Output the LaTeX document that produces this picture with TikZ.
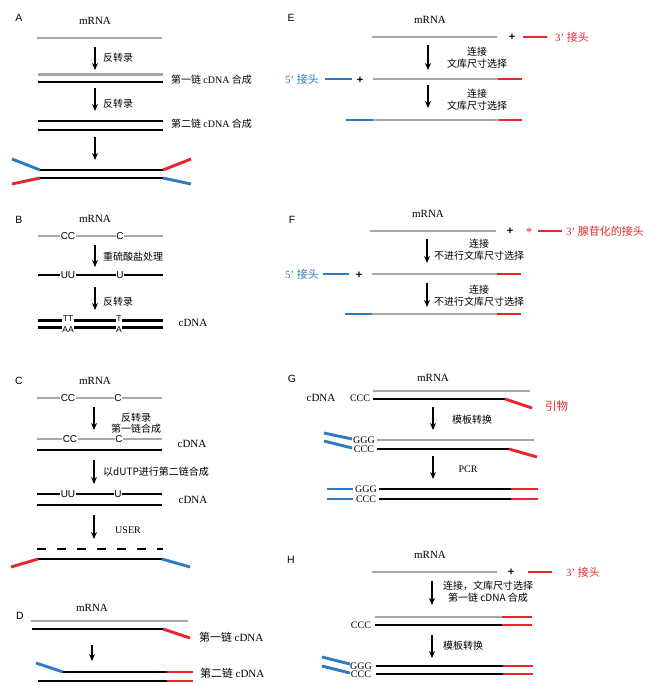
\documentclass[tikz,border=0pt]{standalone}
\usepackage{fontspec}
\setmainfont{Liberation Serif}
\setsansfont{Liberation Sans}
\newfontfamily\cjk{Noto Sans CJK SC}
\usetikzlibrary{arrows.meta}
\definecolor{rg}{HTML}{A8A8A8}
\definecolor{rr}{HTML}{E8262B}
\definecolor{rb}{HTML}{2E7BC4}
\tikzset{
  strand/.style={line width=2.9pt},
  rna/.style={strand, draw=rg},
  dna/.style={strand, draw=black},
  adr/.style={strand, draw=rr},
  adb/.style={strand, draw=rb},
  flow/.style={-{Stealth[length=7pt,width=6pt]}, line width=1.2pt},
  panel/.style={font=\sffamily\fontsize{10.5}{12}\selectfont, inner sep=0pt},
  mrna/.style={font=\fontsize{11}{13}\selectfont, inner sep=0pt},
  zh/.style={font=\cjk\fontsize{10}{12}\selectfont, align=center, inner sep=0pt},
  zhbig/.style={font=\cjk\fontsize{11}{13}\selectfont, inner sep=0pt},
  base/.style={font=\sffamily\fontsize{10}{11}\selectfont, fill=white, inner sep=0.7pt},
  tbase/.style={font=\sffamily\fontsize{8.5}{9}\selectfont, fill=white, inner sep=0.5pt},
  nt/.style={font=\fontsize{10}{12}\selectfont, inner sep=0pt},
  plus/.style={font=\sffamily\bfseries\fontsize{11}{12}\selectfont, inner sep=0pt},
}
\begin{document}
\begin{tikzpicture}[x=1pt,y=-1pt]
\useasboundingbox (0,0) rectangle (654,685);

% ---------------- Panel A ----------------
\node[panel] (lA) at (19,18) {A};
\node[mrna] (mA) at (95,21) {mRNA};
\draw[rna] (37,38) -- (162,38);
\coordinate (A1s) at (95,47); \coordinate (A1e) at (95,70);
\draw[flow] (A1s) -- (A1e);
\node[zh,anchor=west] (tA1) at (103,58) {反转录};
\draw[rna] (38,74.5) -- (163,74.5);
\draw[dna] (38,82) -- (163,82);
\node[zh,anchor=west] (tA2) at (171,80) {第一链 {\rmfamily cDNA} 合成};
\coordinate (A2s) at (95,88); \coordinate (A2e) at (95,111);
\draw[flow] (A2s) -- (A2e);
\node[zh,anchor=west] (tA3) at (103,104) {反转录};
\draw[dna] (38,121) -- (163,121);
\draw[dna] (38,130) -- (163,130);
\node[zh,anchor=west] (tA4) at (171,124) {第二链 {\rmfamily cDNA} 合成};
\coordinate (A3s) at (95,137); \coordinate (A3e) at (95,160);
\draw[flow] (A3s) -- (A3e);
\draw[dna] (40,170) -- (163,170);
\draw[dna] (40,178) -- (163,178);
\draw[adb] (12,159) -- (40,170);
\draw[adr] (12,184) -- (40,178);
\draw[adr] (163,170) -- (191,159);
\draw[adb] (163,178) -- (191,184);

% ---------------- Panel B ----------------
\node[panel] (lB) at (19,220) {B};
\node[mrna] (mB) at (95,219) {mRNA};
\draw[rna] (38,236) -- (163,236);
\node[base] (bB1) at (68,236) {CC};
\node[base] (bB2) at (120,236) {C};
\coordinate (B1s) at (95,245); \coordinate (B1e) at (95,267);
\draw[flow] (B1s) -- (B1e);
\node[zh,anchor=west] (tB1) at (103,257) {重硫酸盐处理};
\draw[dna] (38,275) -- (163,275);
\node[base] (bB3) at (68,275) {UU};
\node[base] (bB4) at (120,275) {U};
\coordinate (B2s) at (95,287); \coordinate (B2e) at (95,310);
\draw[flow] (B2s) -- (B2e);
\node[zh,anchor=west] (tB2) at (103,302) {反转录};
\draw[dna] (38,320.7) -- (163,320.7);
\draw[dna] (38,327.3) -- (163,327.3);
\node[tbase] (bB5) at (68,318.3) {TT};
\node[tbase] (bB6) at (119,318.3) {T};
\node[tbase] (bB7) at (68,329.5) {AA};
\node[tbase] (bB8) at (119,329.5) {A};
\node[mrna] (cB) at (193,323) {cDNA};

% ---------------- Panel C ----------------
\node[panel] (lC) at (19,381) {C};
\node[mrna] (mC) at (95,381) {mRNA};
\draw[rna] (37,398) -- (162,398);
\node[base] (bC1) at (68,398) {CC};
\node[base] (bC2) at (118,398) {C};
\coordinate (C1s) at (94,407); \coordinate (C1e) at (94,430);
\draw[flow] (C1s) -- (C1e);
\node[zh] (tC1) at (136,423.5) {反转录\\[-1pt]第一链合成};
\draw[rna] (37,439) -- (162,439);
\node[base] (bC3) at (70,439) {CC};
\node[base] (bC4) at (119,439) {C};
\draw[dna] (37,450) -- (162,450);
\node[mrna] (cC1) at (192,444) {cDNA};
\coordinate (C2s) at (94,460); \coordinate (C2e) at (94,484);
\draw[flow] (C2s) -- (C2e);
\node[zh,anchor=west] (tC2) at (103,472) {以dUTP进行第二链合成};
\draw[dna] (37,494) -- (162,494);
\node[base] (bC5) at (68,494) {UU};
\node[base] (bC6) at (118,494) {U};
\draw[dna] (37,505) -- (162,505);
\node[mrna] (cC2) at (193,500) {cDNA};
\coordinate (C3s) at (94,515); \coordinate (C3e) at (94,539);
\draw[flow] (C3s) -- (C3e);
\node[nt] (tC3) at (128,530) {USER};
\draw[strand, dash pattern=on 9pt off 11pt] (37,549) -- (162.5,549);
\draw[dna] (38,559) -- (162,559);
\draw[adr] (11,567) -- (38,559);
\draw[adb] (162,559) -- (190,567);

% ---------------- Panel D ----------------
\node[panel] (lD) at (20,616) {D};
\node[mrna] (mD) at (92,608) {mRNA};
\draw[rna] (31,621) -- (188,621);
\draw[dna] (32,629) -- (163,629);
\draw[adr] (163,629) -- (190,638);
\node[zhbig,anchor=west] (tD1) at (199,637) {第一链 {\rmfamily cDNA}};
\coordinate (D1s) at (92,645); \coordinate (D1e) at (92,661);
\draw[flow] (D1s) -- (D1e);
\draw[adb] (36,663) -- (63,672);
\draw[dna] (63,672) -- (167,672);
\draw[adr] (167,672) -- (193,672);
\draw[dna] (38,681) -- (167,681);
\draw[adr] (167,681) -- (193,681);
\node[zhbig,anchor=west] (tD2) at (200,673) {第二链 {\rmfamily cDNA}};

% ---------------- Panel E ----------------
\node[panel] (lE) at (291,18) {E};
\node[mrna] (mE) at (430,20) {mRNA};
\draw[rna] (372,37) -- (497,37);
\node[plus] (pE1) at (512,37) {+};
\draw[adr] (523,37) -- (547,37);
\node[zhbig,anchor=west,text=rr] (tE3) at (555,37) {{\rmfamily 3'} 接头};
\coordinate (E1s) at (428,45); \coordinate (E1e) at (428,70);
\draw[flow] (E1s) -- (E1e);
\node[zh] (tE1) at (477,58) {连接\\文库尺寸选择};
\node[zhbig,anchor=east,text=rb] (tE5) at (319,79) {{\rmfamily 5'} 接头};
\draw[adb] (325,79) -- (352,79);
\node[plus] (pE2) at (360,80) {+};
\draw[rna] (373,79) -- (498,79);
\draw[adr] (498,79) -- (522,79);
\coordinate (E2s) at (428,85); \coordinate (E2e) at (428,108);
\draw[flow] (E2s) -- (E2e);
\node[zh] (tE2) at (477,99.5) {连接\\文库尺寸选择};
\draw[adb] (346,120) -- (373,120);
\draw[rna] (373,120) -- (499,120);
\draw[adr] (499,120) -- (522,120);

% ---------------- Panel F ----------------
\node[panel] (lF) at (292,220) {F};
\node[mrna] (mF) at (428,214) {mRNA};
\draw[rna] (370,231) -- (496,231);
\node[plus] (pF1) at (510,231) {+};
\node[font=\fontsize{13}{14}\selectfont, text=rr, inner sep=0pt] (sF) at (529,232) {*};
\draw[adr] (538,231) -- (562,231);
\node[zhbig,anchor=west,text=rr] (tF3) at (566,231) {{\rmfamily 3'} 腺苷化的接头};
\coordinate (F1s) at (427,239); \coordinate (F1e) at (427,263);
\draw[flow] (F1s) -- (F1e);
\node[zh] (tF1) at (479,250) {连接\\不进行文库尺寸选择};
\node[zhbig,anchor=east,text=rb] (tF5) at (319,274) {{\rmfamily 5'} 接头};
\draw[adb] (323,274) -- (349,274);
\node[plus] (pF2) at (359,275) {+};
\draw[rna] (372,274) -- (497,274);
\draw[adr] (497,274) -- (521,274);
\coordinate (F2s) at (427,283); \coordinate (F2e) at (427,307);
\draw[flow] (F2s) -- (F2e);
\node[zh] (tF2) at (479,295.5) {连接\\不进行文库尺寸选择};
\draw[adb] (345,314) -- (372,314);
\draw[rna] (372,314) -- (497,314);
\draw[adr] (497,314) -- (521,314);

% ---------------- Panel G ----------------
\node[panel] (lG) at (292,379) {G};
\node[mrna] (mG) at (433,378) {mRNA};
\draw[rna] (373,391) -- (530,391);
\node[mrna] (cG) at (321,398) {cDNA};
\node[nt] (nG1) at (360,398.5) {CCC};
\draw[dna] (373,399) -- (505,399);
\draw[adr] (505,399) -- (532,408);
\node[zhbig,anchor=west,text=rr,font=\cjk\fontsize{11.5}{13}\selectfont] (tG3) at (545,406) {引物};
\coordinate (G1s) at (433,407); \coordinate (G1e) at (433,430);
\draw[flow] (G1s) -- (G1e);
\node[zh] (tG1) at (472,420) {模板转换};
\draw[adb] (324,433) -- (352,439);
\draw[adb] (324,441) -- (352,448);
\node[nt] (nG2) at (364,440) {GGG};
\node[nt] (nG3) at (364,449.5) {CCC};
\draw[rna] (377,440) -- (534,440);
\draw[dna] (377,449) -- (509,449);
\draw[adr] (509,449) -- (537,457);
\coordinate (G2s) at (433,456); \coordinate (G2e) at (433,479);
\draw[flow] (G2s) -- (G2e);
\node[nt] (tG2) at (468,469) {PCR};
\draw[adb] (327,489) -- (353,489);
\draw[adb] (327,499) -- (353,499);
\node[nt] (nG4) at (366,489) {GGG};
\node[nt] (nG5) at (366,499.5) {CCC};
\draw[dna] (379,489) -- (511,489);
\draw[adr] (511,489) -- (538,489);
\draw[dna] (379,499) -- (511,499);
\draw[adr] (511,499) -- (538,499);

% ---------------- Panel H ----------------
\node[panel] (lH) at (291,560) {H};
\node[mrna] (mH) at (430,555) {mRNA};
\draw[rna] (372,572) -- (497,572);
\node[plus] (pH1) at (511,572) {+};
\draw[adr] (528,572) -- (552,572);
\node[zhbig,anchor=west,text=rr] (tH3) at (566,572) {{\rmfamily 3'} 接头};
\coordinate (H1s) at (432,581); \coordinate (H1e) at (432,605);
\draw[flow] (H1s) -- (H1e);
\node[zh] (tH1) at (488,591.5) {连接，文库尺寸选择\\第一链 cDNA 合成};
\draw[rna] (375,617) -- (502,617);
\draw[adr] (502,617) -- (532,617);
\node[nt] (nH1) at (361,625.5) {CCC};
\draw[dna] (375,625) -- (502,625);
\draw[adr] (502,625) -- (532,625);
\coordinate (H2s) at (432,635); \coordinate (H2e) at (432,658);
\draw[flow] (H2s) -- (H2e);
\node[zh] (tH2) at (463,646) {模板转换};
\draw[adb] (322,657) -- (350,664);
\draw[adb] (322,666) -- (350,673);
\node[nt] (nH2) at (361,666) {GGG};
\node[nt] (nH3) at (361,674.5) {CCC};
\draw[dna] (376,666) -- (503,666);
\draw[adr] (503,666) -- (533,666);
\draw[dna] (376,674) -- (503,674);
\draw[adr] (503,674) -- (533,674);
\end{tikzpicture}
\end{document}
